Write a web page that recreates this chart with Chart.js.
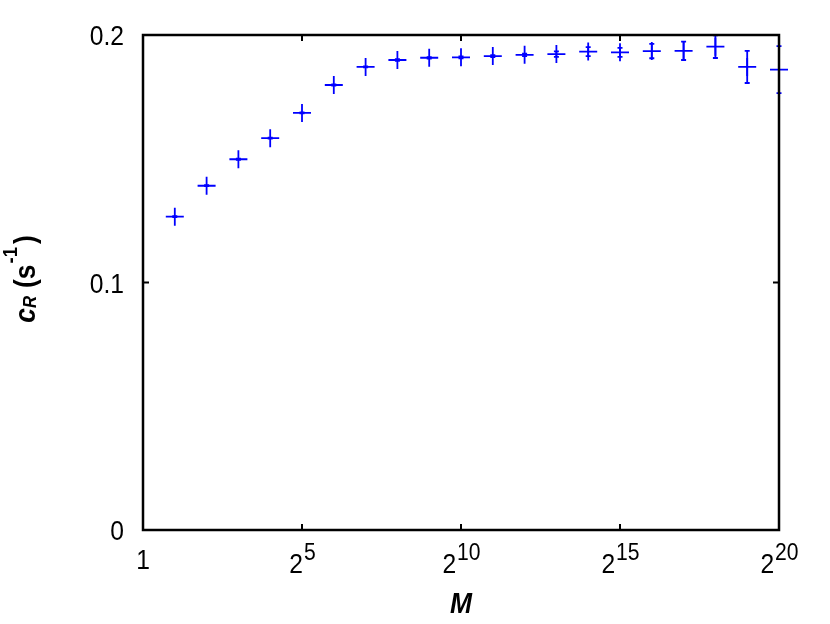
<!DOCTYPE html>
<html>
<head>
<meta charset="utf-8">
<script src="https://cdn.jsdelivr.net/npm/chart.js@4"></script>
<style>
html,body{margin:0;padding:0;background:#fff;}
#wrap{width:830px;height:624px;}
</style>
</head>
<body>
<div id="wrap"><canvas id="c" width="830" height="624"></canvas></div>
<script>
// exponents k, with M = 2^k
const exponents = [1,2,3,4,5,6,7,8,9,10,11,12,13,14,15,16,17,18,19,20];
const cR = [0.1266,0.1391,0.1498,0.1583,0.1685,0.1798,0.1871,0.1899,0.1908,0.1910,
            0.1915,0.1920,0.1923,0.1933,0.1930,0.1935,0.1936,0.1953,0.1871,0.1860];
const cRerr = [0.0002,0.0002,0.0002,0.0002,0.0002,0.0002,0.0002,0.0003,0.0003,0.0004,
               0.0004,0.0005,0.0011,0.0018,0.0018,0.0029,0.0037,0.0046,0.0065,0.0095];
const xTickExps = [0,5,10,15,20];
const yTicks = [0,0.1,0.2];
const yTickLabels = ['0','0.1','0.2'];

const BLUE = '#0000ff';
const FAM = ' "Liberation Sans", Arial, sans-serif';
const SX = 0.88; // horizontal compression to mimic the narrow face
const points = exponents.map((k,i)=>({x:Math.pow(2,k), y:cR[i]}));

function txt(ctx, s, x, y, font, align){
  ctx.save();
  ctx.font = font + FAM;
  ctx.translate(x, y);
  ctx.scale(SX, 1);
  const w = ctx.measureText(s).width;
  let ox = 0;
  if(align==='right') ox = -w; else if(align==='center') ox = -w/2;
  ctx.textAlign = 'left';
  ctx.fillText(s, ox, 0);
  ctx.restore();
  return w*SX;
}
function width(ctx, s, font){ ctx.font = font + FAM; return ctx.measureText(s).width*SX; }

const decor = {
  id:'decor',
  afterDatasetsDraw(chart){
    const ctx = chart.ctx, xs = chart.scales.x, ys = chart.scales.y;
    ctx.save();
    ctx.strokeStyle = BLUE; ctx.lineWidth = 1.8;
    exponents.forEach((k,i)=>{
      const px = xs.getPixelForValue(Math.pow(2,k));
      const y1 = ys.getPixelForValue(cR[i]-cRerr[i]);
      const y2 = ys.getPixelForValue(cR[i]+cRerr[i]);
      ctx.beginPath();
      ctx.moveTo(px,y1); ctx.lineTo(px,y2);
      ctx.moveTo(px-2.5,y1); ctx.lineTo(px+2.5,y1);
      ctx.moveTo(px-2.5,y2); ctx.lineTo(px+2.5,y2);
      ctx.stroke();
    });
    ctx.restore();
  },
  afterDraw(chart){
    const ctx = chart.ctx, xs = chart.scales.x, ys = chart.scales.y;
    const a = chart.chartArea;
    ctx.save();
    ctx.strokeStyle = '#000'; ctx.lineWidth = 2.5;
    ctx.strokeRect(a.left, a.top, a.right-a.left, a.bottom-a.top);
    ctx.lineWidth = 2;
    ctx.beginPath();
    xTickExps.forEach(k=>{
      const px = xs.getPixelForValue(Math.pow(2,k));
      ctx.moveTo(px,a.bottom); ctx.lineTo(px,a.bottom-6);
      ctx.moveTo(px,a.top); ctx.lineTo(px,a.top+6);
    });
    yTicks.forEach(v=>{
      const py = ys.getPixelForValue(v);
      ctx.moveTo(a.left,py); ctx.lineTo(a.left+6,py);
      ctx.moveTo(a.right,py); ctx.lineTo(a.right-6,py);
    });
    ctx.stroke();
    ctx.fillStyle = '#000';
    // y tick labels
    ctx.textBaseline = 'alphabetic';
    yTicks.forEach((v,i)=>{
      txt(ctx, yTickLabels[i], a.left-19, ys.getPixelForValue(v)+10, '28px', 'right');
    });
    // x tick labels
    xTickExps.forEach(k=>{
      const px = xs.getPixelForValue(Math.pow(2,k));
      if(k===0){
        txt(ctx, '1', px, a.bottom+39, '28px', 'center');
      } else {
        const wb = width(ctx, '2', '28px');
        const ws = width(ctx, String(k), '24px');
        const x0 = px - (wb+ws)/2;
        txt(ctx, '2', x0, a.bottom+43, '28px', 'left');
        txt(ctx, String(k), x0+wb+1, a.bottom+30, '24px', 'left');
      }
    });
    // x title
    txt(ctx, 'M', (a.left+a.right)/2, 613, 'italic bold 30px', 'center');
    // y title (rotated)
    ctx.save();
    ctx.translate(35, 279);
    ctx.rotate(-Math.PI/2);
    const parts = [
      {t:'c', f:'italic bold 30px', dy:0, gap:0},
      {t:'R', f:'italic bold 19px', dy:1, gap:0},
      {t:'(', f:'bold 30px', dy:0, gap:8},
      {t:'s', f:'bold 30px', dy:0, gap:0},
      {t:'-1', f:'bold 21px', dy:-18, gap:1},
      {t:')', f:'bold 30px', dy:0, gap:3}
    ];
    let total = 0;
    parts.forEach(p=>{ p.w = width(ctx, p.t, p.f); total += p.w + p.gap; });
    let x = -total/2;
    parts.forEach(p=>{
      x += p.gap;
      txt(ctx, p.t, x, p.dy, p.f, 'left');
      x += p.w;
    });
    ctx.restore();
    ctx.restore();
  }
};

new Chart(document.getElementById('c'), {
  type:'scatter',
  data:{datasets:[{
    data: points,
    pointStyle:'cross',
    pointRadius:9,
    pointHoverRadius:9,
    borderColor:BLUE,
    backgroundColor:BLUE,
    pointBorderWidth:1.8,
    clip:false
  }]},
  options:{
    responsive:false,
    animation:false,
    events:[],
    layout:{padding:{top:35,right:51,left:0,bottom:0}},
    plugins:{legend:{display:false},tooltip:{enabled:false}},
    scales:{
      x:{type:'logarithmic', min:1, max:Math.pow(2,20),
         grid:{display:false}, border:{display:false}, ticks:{display:false},
         afterFit(s){ s.height = 94; }},
      y:{type:'linear', min:0, max:0.2,
         grid:{display:false}, border:{display:false}, ticks:{display:false},
         afterFit(s){ s.width = 143; }}
    }
  },
  plugins:[decor]
});
</script>
</body>
</html>
